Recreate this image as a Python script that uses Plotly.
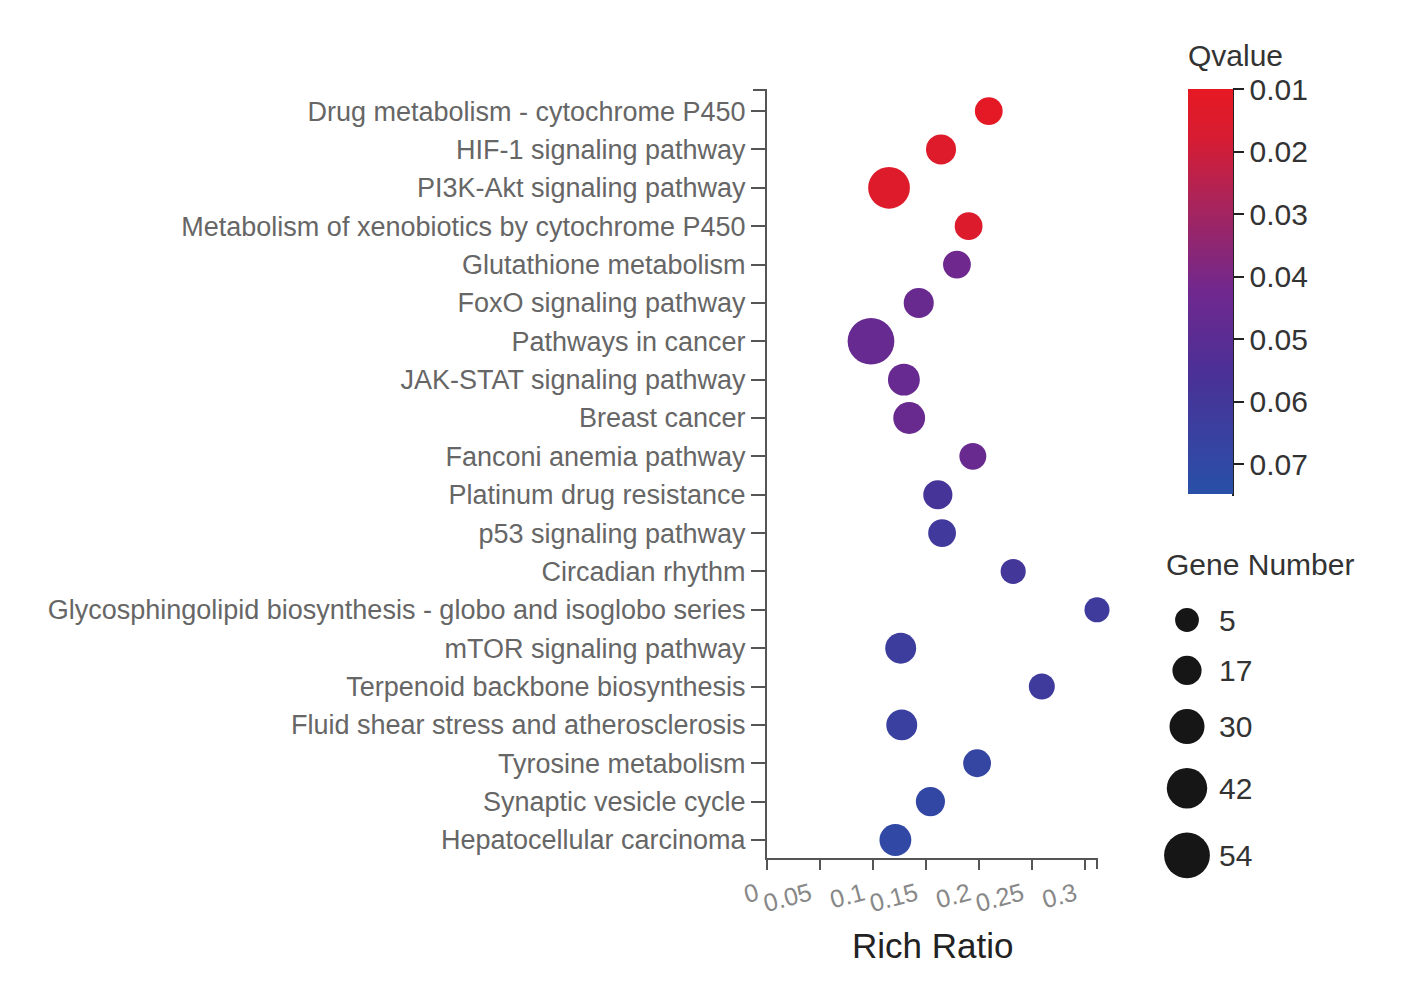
import plotly.graph_objects as go

# ---------------- data ----------------
pathways = [
    "Drug metabolism - cytochrome P450",
    "HIF-1 signaling pathway",
    "PI3K-Akt signaling pathway",
    "Metabolism of xenobiotics by cytochrome P450",
    "Glutathione metabolism",
    "FoxO signaling pathway",
    "Pathways in cancer",
    "JAK-STAT signaling pathway",
    "Breast cancer",
    "Fanconi anemia pathway",
    "Platinum drug resistance",
    "p53 signaling pathway",
    "Circadian rhythm",
    "Glycosphingolipid biosynthesis - globo and isoglobo series",
    "mTOR signaling pathway",
    "Terpenoid backbone biosynthesis",
    "Fluid shear stress and atherosclerosis",
    "Tyrosine metabolism",
    "Synaptic vesicle cycle",
    "Hepatocellular carcinoma",
]
rich_ratio = [0.209, 0.164, 0.115, 0.190, 0.179, 0.143, 0.098, 0.129, 0.134, 0.194,
              0.161, 0.165, 0.232, 0.311, 0.126, 0.259, 0.127, 0.198, 0.154, 0.121]
qvalue = [0.011, 0.014, 0.014, 0.015, 0.043, 0.045, 0.046, 0.046, 0.045, 0.045,
          0.058, 0.061, 0.060, 0.062, 0.063, 0.062, 0.065, 0.068, 0.069, 0.070]
gene_number = [14, 19, 45, 14, 14, 19, 56, 23, 23, 12,
               17, 14, 8, 8, 21, 10, 21, 14, 17, 23]

x_ticks = [0, 0.05, 0.1, 0.15, 0.2, 0.25, 0.3]
x_ticklabels = ["0", "0.05", "0.1", "0.15", "0.2", "0.25", "0.3"]
q_ticks = [0.01, 0.02, 0.03, 0.04, 0.05, 0.06, 0.07]
q_ticklabels = ["0.01", "0.02", "0.03", "0.04", "0.05", "0.06", "0.07"]
legend_counts = [5, 17, 30, 42, 54]

# ---------------- scales / layout geometry ----------------
# page body has an 8px margin: convert screen pixels -> figure pixels
OFF = 8
W, H = 1400, 977


def fx(sx):
    return sx - OFF


def fy(sy):
    return sy - OFF


PX_L, PX_R, PY_T, PY_B = fx(767), fx(1398), fy(90), fy(900)   # paper area (figure px)
PW, PH = PX_R - PX_L, PY_B - PY_T


def px2x(sx):
    return (fx(sx) - PX_L) / PW


def py2y(sy):
    return (PY_B - fy(sy)) / PH


def size_scale(n):
    return 21.5 + 0.45 * n


Q_MIN, Q_MAX = 0.01, 0.0748
colorscale = [
    [0.0, "rgb(40,80,168)"],
    [0.30, "rgb(75,48,150)"],
    [0.50, "rgb(112,40,142)"],
    [0.72, "rgb(170,36,90)"],
    [0.88, "rgb(215,28,50)"],
    [1.0, "rgb(230,25,35)"],
]

FONT = "Liberation Sans, Arial, sans-serif"

fig = go.Figure()

fig.add_trace(go.Scatter(
    x=rich_ratio,
    y=pathways,
    mode="markers",
    cliponaxis=False,
    marker=dict(
        size=[size_scale(n) for n in gene_number],
        sizemode="diameter",
        color=[-q for q in qvalue],
        colorscale=colorscale,
        cmin=-Q_MAX,
        cmax=-Q_MIN,
        opacity=1,
        line=dict(width=0),
        colorbar=dict(
            xref="container", yref="container",
            x=fx(1188) / W, xanchor="left", xpad=0,
            y=1 - (fy(90) + 16) / H, yanchor="top", ypad=0,
            lenmode="pixels", len=405,
            thicknessmode="pixels", thickness=45,
            outlinewidth=0,
            ticks="outside", ticklen=11, tickwidth=2, tickcolor="#222",
            tickvals=[-q for q in q_ticks],
            ticktext=q_ticklabels,
            tickfont=dict(family=FONT, size=30, color="#333"),
        ),
    ),
    showlegend=False,
    hoverinfo="x+y",
))

# Gene Number legend (drawn on a hidden pixel-unit axis, screen px units)
leg_d = [size_scale(n) for n in legend_counts]
leg_y = [620.0]
for i in range(1, len(leg_d)):
    leg_y.append(leg_y[-1] + leg_d[i - 1] / 2 + leg_d[i] / 2 + 24)
fig.add_trace(go.Scatter(
    x=[1187] * len(legend_counts),
    y=leg_y,
    mode="markers",
    cliponaxis=False,
    marker=dict(size=leg_d, sizemode="diameter", color="rgb(22,22,22)",
                opacity=1, line=dict(width=0)),
    xaxis="x2", yaxis="y2",
    showlegend=False, hoverinfo="skip",
))

annotations = []
for yy, c in zip(leg_y, legend_counts):
    annotations.append(dict(
        x=1217, y=yy, xref="x2", yref="y2", text=str(c), showarrow=False,
        xanchor="left", yanchor="middle",
        font=dict(family=FONT, size=30, color="#333"),
    ))
annotations.append(dict(
    x=1164, y=564, xref="x2", yref="y2", text="Gene Number", showarrow=False,
    xanchor="left", yanchor="middle",
    font=dict(family=FONT, size=30, color="#333"),
))
annotations.append(dict(
    x=px2x(1186), y=py2y(55), xref="paper", yref="paper", text="Qvalue", showarrow=False,
    xanchor="left", yanchor="middle",
    font=dict(family=FONT, size=30, color="#333"),
))
annotations.append(dict(
    x=px2x(932), y=py2y(945), xref="paper", yref="paper", text="Rich Ratio", showarrow=False,
    xanchor="center", yanchor="middle",
    font=dict(family=FONT, size=35, color="#222"),
))

AX_COL = "#555"
shapes = [
    # colorbar right edge line
    dict(type="line", xref="paper", yref="paper",
         x0=px2x(1233), x1=px2x(1233), y0=py2y(90), y1=py2y(496),
         line=dict(color="#222", width=2)),
    # outer end tick on top of y axis
    dict(type="line", xref="paper", yref="paper",
         x0=px2x(753), x1=px2x(767), y0=py2y(90), y1=py2y(90),
         line=dict(color=AX_COL, width=2)),
    # outer end tick on right of x axis
    dict(type="line", xref="paper", yref="paper",
         x0=px2x(1097), x1=px2x(1097), y0=py2y(858), y1=py2y(869),
         line=dict(color=AX_COL, width=2)),
]

n_cat = len(pathways)
fig.update_layout(
    template="none",
    width=W, height=H,
    margin=dict(l=PX_L, r=W - PX_R, t=PY_T, b=H - PY_B, pad=0, autoexpand=False),
    paper_bgcolor="white", plot_bgcolor="white",
    font=dict(family=FONT),
    xaxis=dict(
        domain=[0, px2x(1097)],
        range=[0, 0.311],
        tickvals=x_ticks, ticktext=x_ticklabels,
        tickangle=-15,
        ticklabelshift=-10,
        ticks="outside", ticklen=10, tickwidth=2, tickcolor=AX_COL,
        showline=True, linecolor=AX_COL, linewidth=2,
        showgrid=False, zeroline=False, automargin=False,
        tickfont=dict(family=FONT, size=25, color="#888"),
    ),
    yaxis=dict(
        domain=[py2y(858), 1],
        type="category",
        categoryorder="array", categoryarray=pathways,
        range=[n_cat - 1 + 0.47, -0.55],
        ticks="outside", ticklen=14, tickwidth=2, tickcolor=AX_COL,
        showline=True, linecolor=AX_COL, linewidth=2,
        showgrid=False, zeroline=False, automargin=False,
        tickfont=dict(family=FONT, size=27, color="#666"),
    ),
    xaxis2=dict(domain=[px2x(1140), 1], range=[1140, 1398], visible=False,
                anchor="y2", fixedrange=True),
    yaxis2=dict(domain=[0, py2y(540)], range=[900, 540], visible=False,
                anchor="x2", fixedrange=True),
    annotations=annotations,
    shapes=shapes,
)

fig.write_html("out.html")
